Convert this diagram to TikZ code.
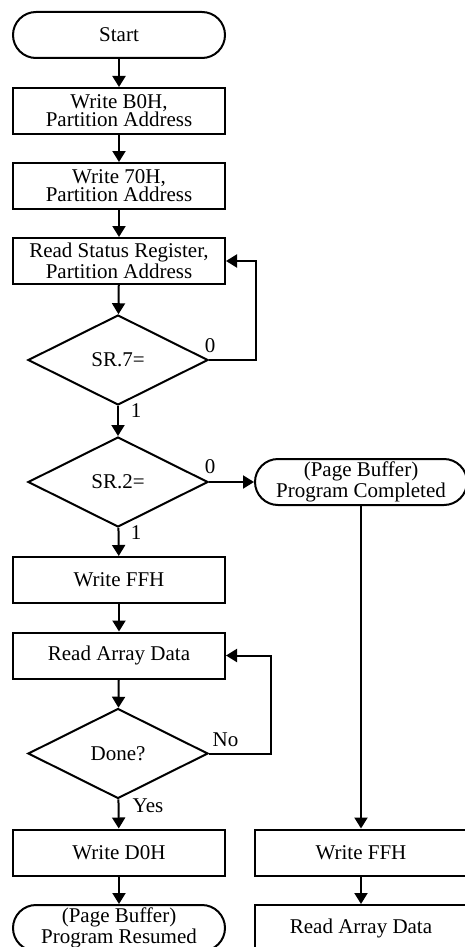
\documentclass[tikz,border=0pt]{standalone}
\usepackage{fontspec}
\setmainfont{Liberation Serif}
\usetikzlibrary{calc}
\usetikzlibrary{arrows.meta}
\usetikzlibrary{shapes.geometric}

\begin{document}
\begin{tikzpicture}[->,>={Triangle[width=6.5pt,length=5.5pt]},x=0.5pt,y=-0.5pt,line width=1pt,font=\fontsize{10.5}{9}\selectfont]
\tikzset{box/.style={draw,rectangle,minimum width=106pt,minimum height=23pt,inner sep=0,align=center}}
\tikzset{term/.style={box,rounded corners=11.5pt}}
\tikzset{test/.style={draw,diamond,minimum width=90pt,minimum height=45pt,inner sep=0}}
\tikzset{lbl/.style={inner sep=0}}

\useasboundingbox (0,0) rectangle (465,947);

% left column
\node[term] (start) at (119,35) {Start};
\node[box] (b0h) at (119,111) {Write B0H,\\Partition Address};
\node[box] (w70) at (119,186) {Write 70H,\\Partition Address};
\node[box] (rsr) at (119,261) {Read Status Register,\\Partition Address};
\node[test] (sr7) at (118,360) {SR.7=};
\node[test] (sr2) at (118,482) {SR.2=};
\node[box] (wff) at (119,580) {Write FFH};
\node[box] (rad) at (119,655.5) {Read Array Data};
\node[test] (done) at (118,753.5) {Done?};
\node[box] (wd0) at (119,852.5) {Write D0H};
\node[term] (pr) at (119,928) {(Page Buffer)\\Program Resumed};

% right column
\node[term] (pc) at (361,482) {(Page Buffer)\\Program Completed};
\node[box] (wff2) at (361,852.5) {Write FFH};
\node[box] (rad2) at (361,928) {Read Array Data};

\draw (start) -- (b0h);
\draw (b0h) -- (w70);
\draw (w70) -- (rsr);
\draw (rsr) -- (sr7);
\draw (sr7) -- (sr2);
\draw (sr2) -- (wff);
\draw (wff) -- (rad);
\draw (rad) -- (done);
\draw (done) -- (wd0);
\draw (wd0) -- (pr);

\draw (sr7.east) -| ([xshift=15pt]rsr.east) -- (rsr.east);
\draw (done.east) -| ([xshift=22.5pt]rad.east) -- (rad.east);
\draw (sr2.east) -- (pc.west);
\draw (pc) -- (wff2);
\draw (wff2) -- (rad2);

% branch labels
\node[lbl] at ($(sr7.east)+(1,-14)$) {0};
\node[lbl] at ($(sr7.south)+(18,5)$) {1};
\node[lbl] at ($(sr2.east)+(1,-15)$) {0};
\node[lbl] at ($(sr2.south)+(18,5)$) {1};
\node[lbl] at ($(done.east)+(16.5,-14)$) {No};
\node[lbl] at ($(done.south)+(30,6)$) {Yes};

\end{tikzpicture}
\end{document}
